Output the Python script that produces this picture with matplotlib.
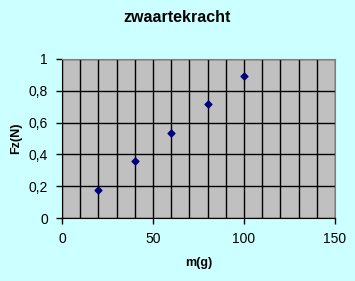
import matplotlib
matplotlib.use("Agg")
import matplotlib.pyplot as plt
from matplotlib.ticker import MultipleLocator, FuncFormatter

massa = [20, 40, 60, 80, 100]
kracht = [0.176, 0.357, 0.533, 0.715, 0.89]

plt.rcParams['font.family'] = ['Liberation Sans', 'DejaVu Sans']

fig = plt.figure(figsize=(3.55, 2.81), dpi=100, facecolor='#CCFFFF')
ax = fig.add_axes([62/355, 1-218/281, 273/355, 159/281])
ax.set_facecolor('#C0C0C0')

ax.scatter(massa, kracht, marker='D', s=12, color='#000080', zorder=3)

ax.set_xlim(0, 150)
ax.set_ylim(0, 1)
ax.xaxis.set_major_locator(MultipleLocator(50))
ax.xaxis.set_minor_locator(MultipleLocator(10))
ax.yaxis.set_major_locator(MultipleLocator(0.2))
ax.yaxis.set_major_formatter(FuncFormatter(lambda v, p: f"{v:g}".replace('.', ',')))

ax.grid(which='both', axis='x', color='black', lw=1)
ax.grid(which='major', axis='y', color='black', lw=1)
ax.set_axisbelow(True)

for s in ['top', 'right']:
    ax.spines[s].set_color('#808080')
for s in ['left', 'bottom']:
    ax.spines[s].set_color('black')

ax.tick_params(which='major', direction='out', length=4, width=1, labelsize=10, pad=6)
ax.tick_params(which='minor', length=0)

# titel gecentreerd op de hele figuur
fig.text(0.5, 1 - 18/281, 'zwaartekracht', ha='center', va='center',
         fontsize=11.5, fontweight='bold')
ax.set_xlabel('m(g)', fontsize=9, fontweight='bold', labelpad=8)
ax.set_ylabel('Fz(N)', fontsize=9, fontweight='bold')
ax.yaxis.set_label_coords((22 - 62) / 273, 0.5)

fig.savefig('out.png', dpi=100, facecolor=fig.get_facecolor())
